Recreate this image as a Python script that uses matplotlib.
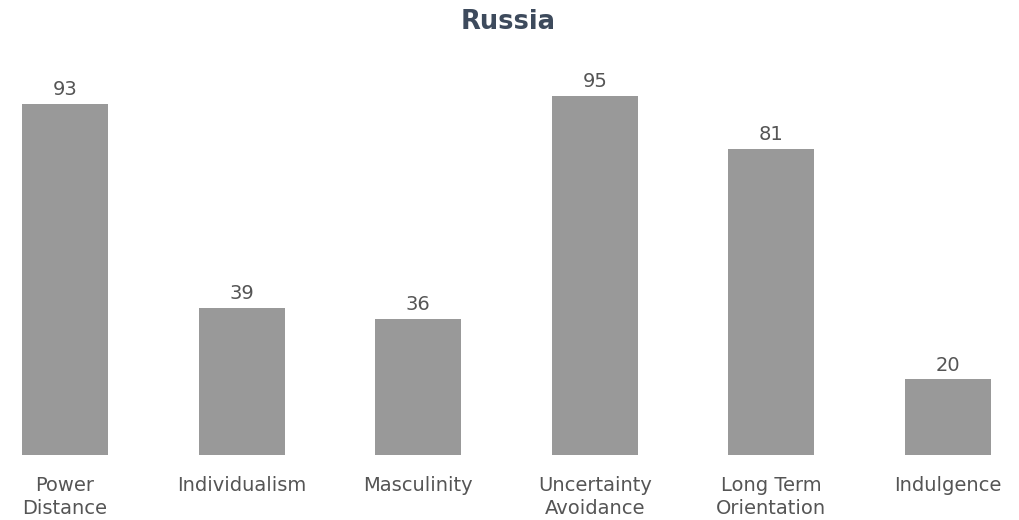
import matplotlib.pyplot as plt

plt.rcParams['font.family'] = ['DejaVu Sans']

categories = ['Power\nDistance', 'Individualism', 'Masculinity',
              'Uncertainty\nAvoidance', 'Long Term\nOrientation', 'Indulgence']
values = [93, 39, 36, 95, 81, 20]

fig = plt.figure(figsize=(10.19, 5.2), dpi=100)
ax = fig.add_axes([0, 0.125, 1, 0.875])

x = list(range(len(values)))
bars = ax.bar(x, values, width=0.487, color='#999999')

for xi, v in zip(x, values):
    ax.text(xi, v + 1.2, str(v), ha='center', va='bottom',
            fontsize=14, color='#555555')

ax.set_xlim(-0.368, 5.402)
ax.set_ylim(0, 120.4)
ax.set_xticks(x)
ax.set_xticklabels(categories, fontsize=14, color='#555555', linespacing=1.25)
ax.tick_params(axis='x', length=0, pad=15)
ax.set_yticks([])
for s in ax.spines.values():
    s.set_visible(False)

fig.text(0.4985, 0.957, 'Russia', ha='center', va='center',
         fontsize=18.5, fontweight='bold', color='#3d4a5c')

fig.savefig('out.png', dpi=100)
